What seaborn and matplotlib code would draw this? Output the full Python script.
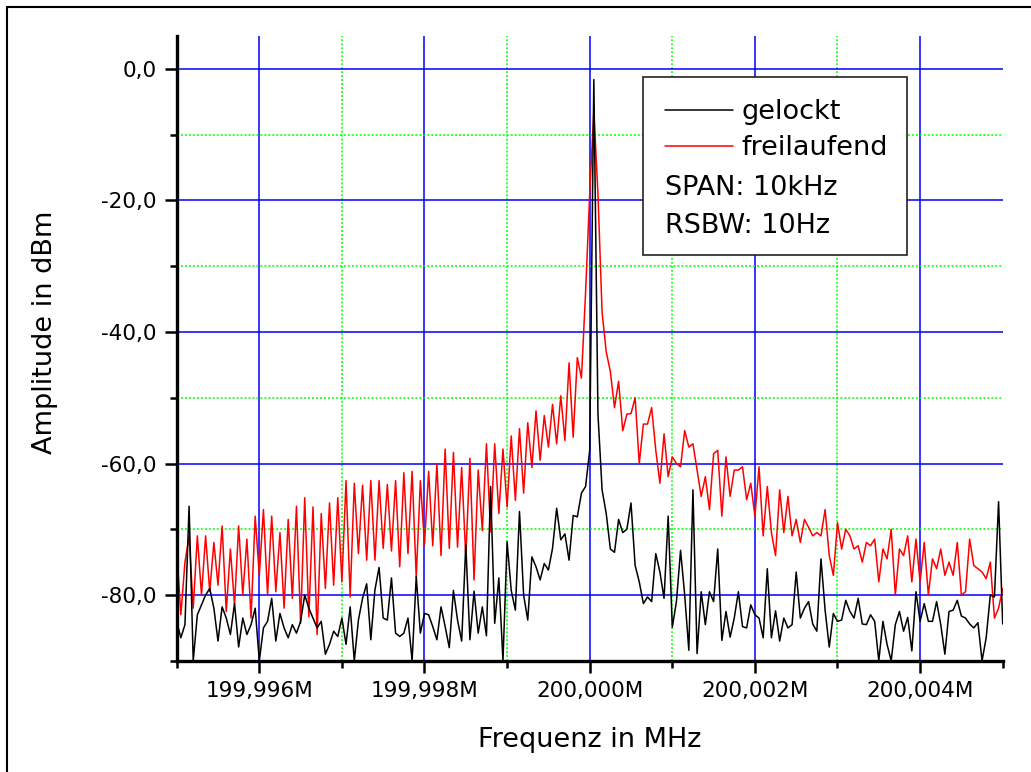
import numpy as np
import pandas as pd
import matplotlib
matplotlib.use("Agg")
import matplotlib.pyplot as plt
import seaborn as sns
from matplotlib.ticker import FixedLocator, FuncFormatter
from matplotlib.lines import Line2D
from matplotlib.patches import Rectangle

# ---------------- data ----------------
freq_start_mhz = 199.995
freq_stop_mhz = 200.005
n_points = 201

gelockt = [
    -84, -86.5, -84.5, -66.5, -90, -83, -81.5, -80, -79, -82,
    -87, -81.8, -83.5, -86, -81.3, -87.9, -83.5, -86, -84.5, -82,
    -90, -85, -84, -80.5, -87, -82.8, -85, -86.5, -84.5, -85.8,
    -84, -80, -82, -83.5, -85, -84, -89, -87.5, -85.5, -86.3,
    -83.5, -87.5, -81.8, -90, -83.8, -80.5, -78.3, -86.8, -79.2, -75.8,
    -83.5, -83.8, -77.4, -85.8, -86.3, -85.8, -83.5, -90, -77.2, -85.8,
    -82.8, -83, -84.8, -86.8, -81.8, -84.8, -88, -79.3, -83.8, -87,
    -72.4, -86.8, -79.4, -85.8, -81.8, -86.2, -63.5, -84.3, -77.4, -90,
    -71.9, -79.3, -82.3, -67.3, -80, -83.8, -74.2, -75.7, -77.7, -75.2,
    -76.2, -72.9, -66.8, -71.6, -70.7, -74.7, -67.9, -68.1, -64.5, -63.5,
    -58, -1.6, -52.5, -64, -67.6, -73, -73.5, -68.5, -70.5, -70,
    -66, -75.5, -78, -81.3, -80.3, -81, -73.7, -76.5, -80.5, -68,
    -84.9, -81, -73.2, -80, -88.4, -64, -88.9, -79.5, -84.5, -79.5,
    -81, -73, -86.9, -82.5, -86.4, -83.5, -79.5, -84.8, -85, -81.5,
    -83, -83.5, -86.5, -76, -86.5, -82.4, -87, -83.5, -85, -84.5,
    -76.5, -83.5, -82, -81, -84.4, -85.5, -74.5, -82.3, -87.9, -82.8,
    -84, -83.8, -80.8, -82.5, -83.5, -80.5, -84.4, -84.5, -83, -84,
    -90, -84, -87.5, -90, -84.5, -82.5, -85.5, -83.4, -88.5, -79.5,
    -84, -81.3, -84, -84, -81, -84.5, -89, -82.5, -82.3, -80.8,
    -83.2, -83.5, -84.4, -85, -84.2, -90, -86.5, -80, -80.3, -65.8,
    -84.4,
]

freilaufend = [
    -73, -83, -75, -71, -82, -71, -80, -71, -79.5, -72,
    -78.5, -69.5, -82.5, -73, -81.5, -69.5, -80, -71.5, -83.5, -68,
    -77, -67, -80, -68, -79.5, -70.5, -82, -68.5, -80.5, -66.5,
    -84.3, -65.2, -83.3, -66.6, -86, -67.6, -79, -66, -78.5, -65.2,
    -78, -62.6, -80.3, -63, -73.7, -63.3, -74.7, -62.6, -74.7, -62.6,
    -72.9, -63.2, -73.3, -62.6, -75.7, -61.4, -73.7, -61.2, -77.3, -62.6,
    -72.3, -61.2, -72.5, -60, -74, -57.8, -72.9, -58.3, -72.7, -60.6,
    -74.3, -59.2, -77.7, -61, -70.2, -57, -70.4, -57, -67.6, -57.8,
    -66.6, -55.8, -65.6, -54.7, -64.5, -53.8, -60.6, -52, -59.5, -52.7,
    -57.5, -51, -57, -49.7, -56.5, -44.7, -56, -43.9, -47, -34,
    -19, -6.5, -19, -37, -43, -46, -51.5, -47.5, -55, -52.5,
    -52.4, -50, -60, -54, -54, -51.5, -58, -63, -55.5, -62,
    -59, -60, -60.5, -55, -57.5, -57, -61, -65, -62, -67,
    -58.5, -58, -68, -59, -65, -61, -61, -60.5, -65.5, -63,
    -68, -60.5, -71, -63.5, -70.5, -74, -64, -70.5, -65, -71,
    -68.5, -72, -68.5, -69.7, -71, -70.5, -71, -67, -74, -77,
    -69, -73, -70, -71, -73, -72.5, -75, -72, -72.5, -71.5,
    -78, -73, -74.5, -70, -80, -73, -74, -71, -78, -71.5,
    -78, -72, -80, -74.5, -76, -73, -77, -75, -77, -72,
    -80, -79.5, -71.5, -75.5, -76, -76.5, -77.5, -75, -83.5, -82,
    -79,
]

series_labels = ["gelockt", "freilaufend"]
series_colors = ["#000000", "#FF0000"]
info_lines = ["SPAN: 10kHz", "RSBW: 10Hz"]

x_major = [199.996, 199.998, 200.000, 200.002, 200.004]
x_minor = [199.995, 199.997, 199.999, 200.001, 200.003, 200.005]
y_major = [-80, -60, -40, -20, 0]
y_minor = [-90, -70, -50, -30, -10]

x_label = "Frequenz in MHz"
y_label = "Amplitude in dBm"

# ---------------- build table ----------------
freq = np.linspace(freq_start_mhz, freq_stop_mhz, n_points)
df = pd.DataFrame({
    "freq": np.concatenate([freq, freq]),
    "amp": np.array(gelockt + freilaufend, dtype=float),
    "trace": [series_labels[0]] * n_points + [series_labels[1]] * n_points,
})

# ---------------- style ----------------
sns.set_theme(style="white")
plt.rcParams["font.family"] = ["DejaVu Sans"]
plt.rcParams["axes.unicode_minus"] = False
plt.rcParams["text.color"] = "black"
plt.rcParams["axes.labelcolor"] = "black"
plt.rcParams["xtick.color"] = "black"
plt.rcParams["ytick.color"] = "black"

W, H = 1031, 772
fig = plt.figure(figsize=(W / 100, H / 100), dpi=100)
fig.patch.set_facecolor("white")

ax_l, ax_r, ax_t, ax_b = 176.7, 1002.7, 36.1, 660.8
ax = fig.add_axes([ax_l / W, 1 - ax_b / H, (ax_r - ax_l) / W, (ax_b - ax_t) / H])
ax.set_facecolor("white")

# draw red first, black on top
sns.lineplot(data=df[df.trace == series_labels[1]], x="freq", y="amp",
             color=series_colors[1], linewidth=1.1, estimator=None, sort=False,
             ax=ax, zorder=3)
sns.lineplot(data=df[df.trace == series_labels[0]], x="freq", y="amp",
             color=series_colors[0], linewidth=1.1, estimator=None, sort=False,
             ax=ax, zorder=4)
red_line, black_line = ax.get_lines()[0], ax.get_lines()[1]

ax.set_xlim(freq_start_mhz, freq_stop_mhz)
ax.set_ylim(-90, 5)

ax.xaxis.set_major_locator(FixedLocator(x_major))
ax.xaxis.set_minor_locator(FixedLocator(x_minor))
ax.yaxis.set_major_locator(FixedLocator(y_major))
ax.yaxis.set_minor_locator(FixedLocator(y_minor))
ax.xaxis.set_major_formatter(FuncFormatter(lambda v, p: f"{v:.3f}M".replace(".", ",")))
ax.yaxis.set_major_formatter(FuncFormatter(lambda v, p: f"{v + 0.0:.1f}".replace(".", ",")))

for s in ["top", "right"]:
    ax.spines[s].set_visible(False)
for s in ["left", "bottom"]:
    ax.spines[s].set_visible(True)
    ax.spines[s].set_color("black")
    ax.spines[s].set_linewidth(2.4)
    ax.spines[s].set_zorder(6)

ax.tick_params(which="major", direction="out", length=8.6, width=1.8, color="black",
               labelsize=15.5, labelcolor="black", pad=6,
               bottom=True, left=True, top=False, right=False)
ax.tick_params(which="minor", direction="out", length=5, width=1.8, color="black",
               bottom=True, left=True, top=False, right=False)

ax.grid(which="major", color="#0000FF", linewidth=1.1, linestyle="-")
ax.grid(which="minor", color="#00FF00", linewidth=1.1, linestyle=(0, (1.3, 1.3)))
ax.set_axisbelow(True)
for t, loc in zip(ax.xaxis.get_minor_ticks(), ax.xaxis.get_minorticklocs()):
    if abs(loc - freq_stop_mhz) < 1e-7:
        t.gridline.set_visible(False)

ax.set_xlabel(x_label, fontsize=19.5, va="center", color="black")
ax.xaxis.set_label_coords(0.5, -0.1268)
ax.set_ylabel(y_label, fontsize=19.5, va="center", color="black")
ax.yaxis.set_label_coords(-0.1594, 0.5255)

# legend box
box = Rectangle((0.5645, 0.6496), 0.3196, 0.2849, transform=ax.transAxes,
                facecolor="white", edgecolor="#222222", linewidth=1.2, zorder=7)
ax.add_patch(box)
leg = ax.legend(handles=[black_line, red_line], labels=series_labels,
                loc="upper left", bbox_to_anchor=(0.5912, 0.8986),
                frameon=False, borderpad=0, borderaxespad=0,
                handlelength=2.5, handletextpad=0.33, labelspacing=0.36,
                fontsize=19.5, labelcolor="black")
leg.set_zorder(8)
for txt, yb in zip(info_lines, [0.7456, 0.6853]):
    ax.text(0.5912, yb, txt, transform=ax.transAxes, fontsize=19.5,
            va="baseline", ha="left", color="black", zorder=9)

# figure border (top and left)
fig.add_artist(Line2D([6.7 / W, 6.7 / W], [0, 1 - 7 / H], transform=fig.transFigure,
                      color="black", linewidth=1.5))
fig.add_artist(Line2D([6.7 / W, 1], [1 - 7 / H, 1 - 7 / H], transform=fig.transFigure,
                      color="black", linewidth=1.5))

fig.savefig("out.png", dpi=100, facecolor="white")
